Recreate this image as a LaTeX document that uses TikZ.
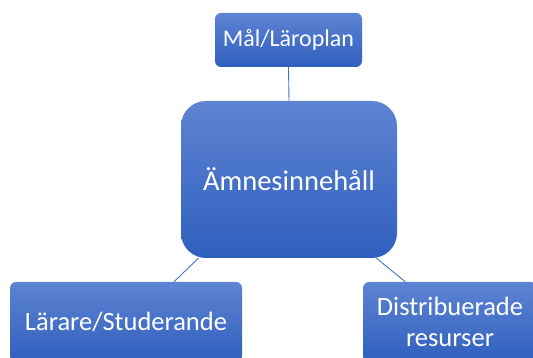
\documentclass[tikz,border=0pt]{standalone}
\usepackage{fontspec}
\setmainfont{Carlito}
\definecolor{boxtop}{HTML}{5E84D2}
\definecolor{boxbottom}{HTML}{2F5FBE}
\definecolor{linkblue}{HTML}{4472C4}
\begin{document}
\begin{tikzpicture}[
    x=1pt, y=1pt,
    box/.style={rounded corners=6pt, top color=boxtop, bottom color=boxbottom, text=white, align=center, inner sep=0pt, font=\fontsize{24}{29}\selectfont},
    link/.style={linkblue, line width=0.9pt}
]
    \useasboundingbox (0,0) rectangle (533,358);
    \clip (0,0) rectangle (533,358);

    % Boxes
    \node[box, minimum width=147pt, minimum height=54pt] (goal) at (288.5,318) {Mål/Läroplan};
    \node[box, rounded corners=25pt, minimum width=216pt, minimum height=157pt, font=\fontsize{28.5}{34}\selectfont] (content) at (289,178.5) {Ämnesinnehåll};
    \node[box, minimum width=232pt, minimum height=80pt, font=\fontsize{26.5}{31}\selectfont] (teacher) at (126,36) {Lärare/Studerande};
    \node[box, minimum width=174pt, minimum height=80pt, font=\fontsize{26.5}{31}\selectfont] (resources) at (450,36) {Distribuerade\\resurser};

    % Links
    \draw[link] (goal.south) -- (content.north);
    \draw[link] (content.221.4) -- (teacher.40.4);
    \draw[link] (content.318.6) -- (resources.138.4);
\end{tikzpicture}
\end{document}
